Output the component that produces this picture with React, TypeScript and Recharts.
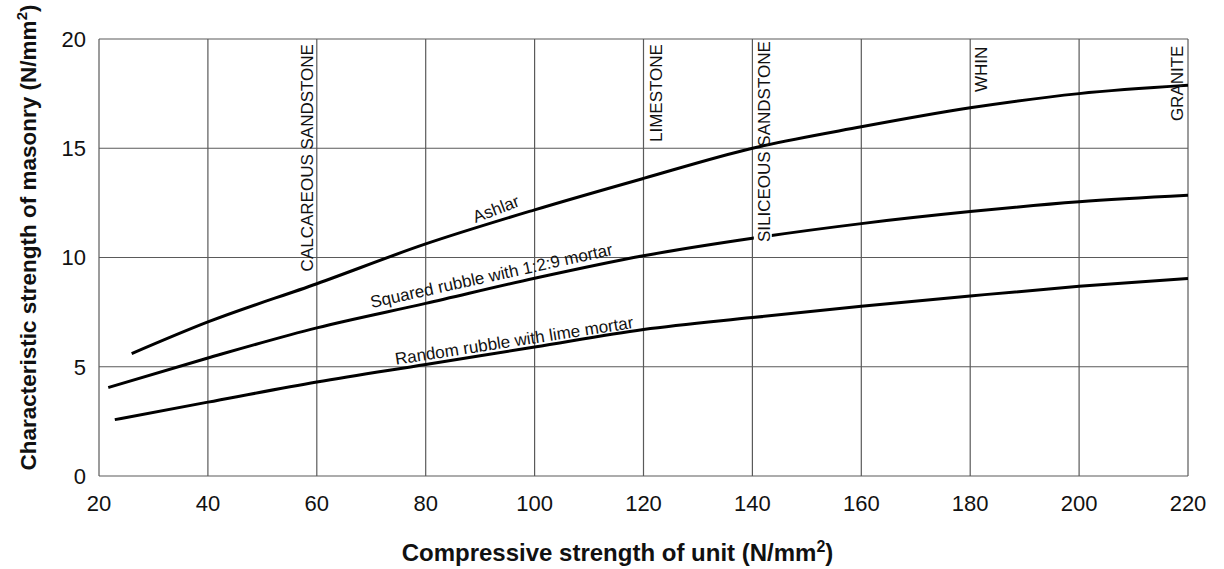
import React from 'react';
import {
  LineChart,
  Line,
  XAxis,
  YAxis,
  CartesianGrid,
  ReferenceDot,
} from 'recharts';

// ---- data ----
const xTicks = [20, 40, 60, 80, 100, 120, 140, 160, 180, 200, 220];
const yTicks = [0, 5, 10, 15, 20];

const ashlar = [
  { x: 26, y: 5.6 },
  { x: 40, y: 7.05 },
  { x: 60, y: 8.8 },
  { x: 80, y: 10.62 },
  { x: 100, y: 12.18 },
  { x: 120, y: 13.62 },
  { x: 140, y: 15.0 },
  { x: 160, y: 15.98 },
  { x: 180, y: 16.85 },
  { x: 200, y: 17.5 },
  { x: 220, y: 17.88 },
];

const squaredRubble = [
  { x: 21.7, y: 4.05 },
  { x: 40, y: 5.4 },
  { x: 60, y: 6.78 },
  { x: 80, y: 7.9 },
  { x: 100, y: 9.05 },
  { x: 120, y: 10.08 },
  { x: 140, y: 10.88 },
  { x: 160, y: 11.55 },
  { x: 180, y: 12.1 },
  { x: 200, y: 12.55 },
  { x: 220, y: 12.85 },
];

const randomRubble = [
  { x: 22.9, y: 2.58 },
  { x: 40, y: 3.38 },
  { x: 60, y: 4.3 },
  { x: 80, y: 5.1 },
  { x: 100, y: 5.9 },
  { x: 120, y: 6.7 },
  { x: 140, y: 7.25 },
  { x: 160, y: 7.77 },
  { x: 180, y: 8.24 },
  { x: 200, y: 8.68 },
  { x: 220, y: 9.04 },
];

// stone type labels (vertical), anchored at their top end
const stoneLabels = [
  { x: 59.3, y: 19.77, text: 'CALCAREOUS SANDSTONE' },
  { x: 123.4, y: 19.77, text: 'LIMESTONE' },
  { x: 143.2, y: 19.9, text: 'SILICEOUS SANDSTONE', gap: true },
  { x: 183.1, y: 19.65, text: 'WHIN' },
  { x: 219.1, y: 19.7, text: 'GRANITE' },
];

// curve labels (baseline centre, angle in degrees)
const curveLabels = [
  { x: 93.3, y: 11.97, angle: -21, text: 'Ashlar' },
  { x: 92.3, y: 8.91, angle: -12.4, text: 'Squared rubble with 1:2:9 mortar' },
  { x: 96.4, y: 5.93, angle: -8.8, text: 'Random rubble with lime mortar' },
];

const FONT = '"Liberation Sans", Arial, Helvetica, sans-serif';

const StoneLabel = (text: string, gap?: boolean) => (props: any) => {
  const { cx, cy } = props;
  return (
    <g>
      {gap ? <rect x={cx - 16} y={cy + 185} width={18} height={14} fill="#fff" /> : null}
      <text
        x={cx}
        y={cy}
        transform={`rotate(-90, ${cx}, ${cy})`}
        textAnchor="end"
        fontFamily={FONT}
        fontSize={17}
        fill="#111"
      >
        {text}
      </text>
    </g>
  );
};

const CurveLabel = (text: string, angle: number) => (props: any) => {
  const { cx, cy } = props;
  return (
    <text
      x={cx}
      y={cy}
      transform={`rotate(${angle}, ${cx}, ${cy})`}
      textAnchor="middle"
      fontFamily={FONT}
      fontSize={17}
      fill="#111"
    >
      {text}
    </text>
  );
};

const XTitle = (props: any) => {
  const vb = props.viewBox;
  const x = vb.x + vb.width / 2 - 26;
  const y = vb.y + 85;
  return (
    <text x={x} y={y} textAnchor="middle" fontFamily={FONT} fontSize={24} fontWeight="bold" fill="#111">
      <tspan>Compressive strength of unit (N/mm</tspan>
      <tspan dy={-9} fontSize={16}>2</tspan>
      <tspan dy={9}>)</tspan>
    </text>
  );
};

const YTitle = (props: any) => {
  const vb = props.viewBox;
  const x = vb.x + 36;
  const y = vb.y + vb.height / 2 - 20;
  return (
    <text
      x={x}
      y={y}
      transform={`rotate(-90, ${x}, ${y})`}
      textAnchor="middle"
      fontFamily={FONT}
      fontSize={22.5}
      fontWeight="bold"
      fill="#111"
    >
      <tspan>Characteristic strength of masonry (N/mm</tspan>
      <tspan dy={-9} fontSize={15}>2</tspan>
      <tspan dy={9}>)</tspan>
    </text>
  );
};

export default function App() {
  return (
    <div style={{ position: 'absolute', left: 0, top: 0, width: 1224, height: 569, background: '#fff' }}>
      <LineChart
        width={1224}
        height={569}
        margin={{ top: 39, right: 36, bottom: 0, left: 0 }}
      >
        <CartesianGrid stroke="#5a5a5a" strokeWidth={1.2} />
        <XAxis
          type="number"
          dataKey="x"
          domain={[20, 220]}
          ticks={xTicks}
          interval={0}
          axisLine={false}
          tickLine={false}
          tickSize={6}
          tickMargin={13}
          height={93}
          tick={{ fontSize: 22, fill: '#111', fontFamily: FONT }}
          label={{ content: XTitle }}
          allowDataOverflow
        />
        <YAxis
          type="number"
          dataKey="y"
          domain={[0, 20]}
          ticks={yTicks}
          interval={0}
          axisLine={false}
          tickLine={false}
          tickSize={6}
          tickMargin={7}
          width={99}
          tick={{ fontSize: 22, fill: '#111', fontFamily: FONT }}
          label={{ content: YTitle }}
          allowDataOverflow
        />
        <Line
          data={ashlar}
          dataKey="y"
          type="monotone"
          stroke="#000"
          strokeWidth={3}
          dot={false}
          activeDot={false}
          isAnimationActive={false}
        />
        <Line
          data={squaredRubble}
          dataKey="y"
          type="monotone"
          stroke="#000"
          strokeWidth={3}
          dot={false}
          activeDot={false}
          isAnimationActive={false}
        />
        <Line
          data={randomRubble}
          dataKey="y"
          type="monotone"
          stroke="#000"
          strokeWidth={3}
          dot={false}
          activeDot={false}
          isAnimationActive={false}
        />
        {stoneLabels.map((s) => (
          <ReferenceDot
            key={s.text}
            x={s.x}
            y={s.y}
            r={0}
            isFront
            shape={StoneLabel(s.text, s.gap)}
          />
        ))}
        {curveLabels.map((c) => (
          <ReferenceDot
            key={c.text}
            x={c.x}
            y={c.y}
            r={0}
            isFront
            shape={CurveLabel(c.text, c.angle)}
          />
        ))}
      </LineChart>
    </div>
  );
}
